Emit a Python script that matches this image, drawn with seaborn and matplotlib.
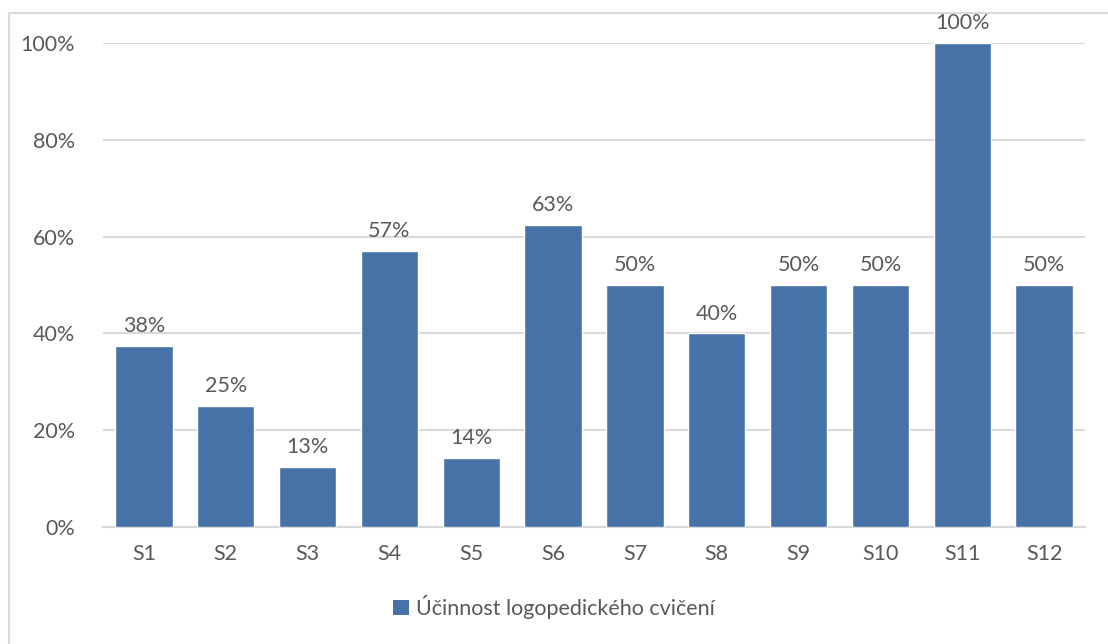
import matplotlib
matplotlib.use("Agg")
import matplotlib.pyplot as plt
from matplotlib.lines import Line2D
from matplotlib.patches import Patch
from matplotlib.ticker import FuncFormatter
import pandas as pd
import seaborn as sns

# data
samples = ["S1", "S2", "S3", "S4", "S5", "S6", "S7", "S8", "S9", "S10", "S11", "S12"]
efficacy = [37.5, 25.0, 12.5, 57.1, 14.3, 62.5, 50.0, 40.0, 50.0, 50.0, 100.0, 50.0]
series_name = "Účinnost logopedického cvičení"

bar_color = "#4672A8"
text_color = "#595959"
grid_color = "#D9D9D9"
fs = 15.5

sns.set_theme(style="white")
plt.rcParams["font.family"] = ["Lato", "DejaVu Sans"]

df = pd.DataFrame({"sample": samples, "value": efficacy, "series": series_name})

fig = plt.figure(figsize=(11.08, 6.44), dpi=100)
ax = fig.add_axes([103 / 1108, (644 - 527) / 644, (1085 - 103) / 1108, (527 - 43) / 644])

sns.barplot(data=df, x="sample", y="value", color=bar_color, width=0.7,
            saturation=1, ax=ax, zorder=3)

ax.set_ylim(0, 100)
ax.set_xlim(-0.5, len(samples) - 0.5)
ax.set_yticks(range(0, 101, 20))
ax.yaxis.set_major_formatter(FuncFormatter(lambda v, _: f"{v:.0f}%"))
ax.grid(axis="y", color=grid_color, linewidth=1.5, zorder=0)
ax.set_axisbelow(True)
for side in ["top", "right", "left"]:
    ax.spines[side].set_visible(False)
ax.spines["bottom"].set_color(grid_color)
ax.spines["bottom"].set_linewidth(1.5)
ax.tick_params(axis="both", length=0, labelsize=fs, colors=text_color)
ax.tick_params(axis="x", pad=12)
ax.tick_params(axis="y", pad=20)
ax.set_xlabel("")
ax.set_ylabel("")

labels = [f"{int(v + 0.5)}%" for v in efficacy]
ax.bar_label(ax.containers[0], labels=labels, padding=7, fontsize=fs, color=text_color)

handle = Patch(facecolor=bar_color, edgecolor="none")
fig.legend([handle], [series_name], loc="center", bbox_to_anchor=(0.5, (644 - 607) / 644),
           frameon=False, fontsize=fs, labelcolor=text_color, handlelength=0.75,
           handleheight=0.75, handletextpad=0.3)

# chart area border (left and top edges visible in the reference)
fig.add_artist(Line2D([9 / 1108, 9 / 1108], [0, (644 - 13) / 644], color=grid_color, linewidth=1.5))
fig.add_artist(Line2D([9 / 1108, 1], [(644 - 13) / 644, (644 - 13) / 644], color=grid_color, linewidth=1.5))

fig.savefig("out.png", dpi=100)
